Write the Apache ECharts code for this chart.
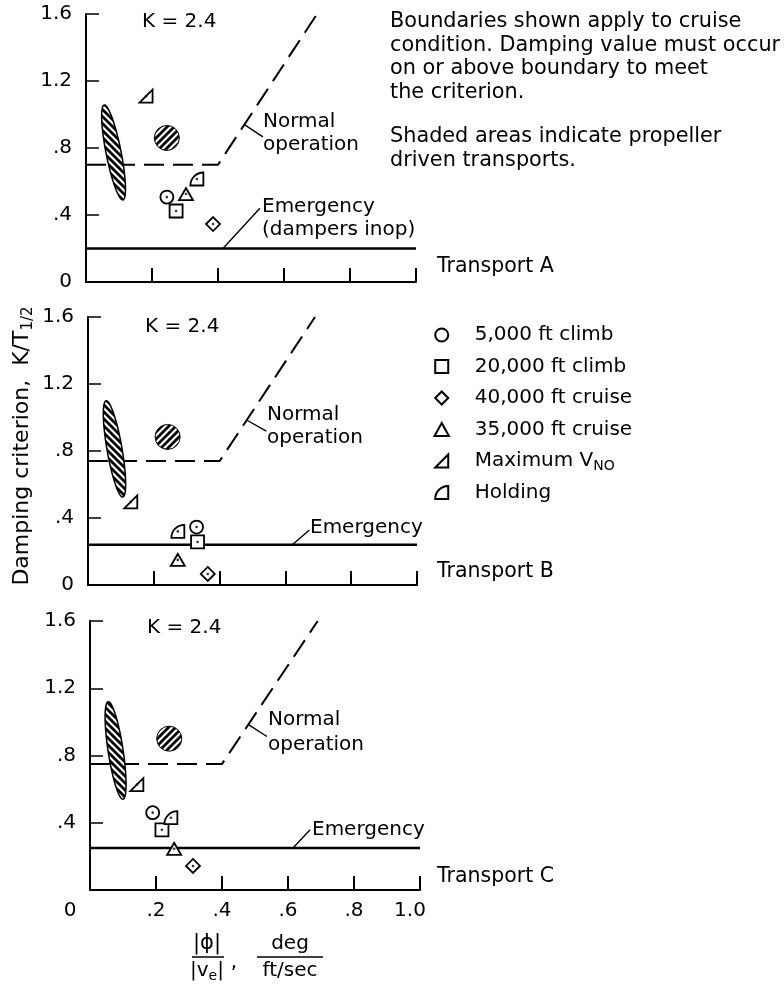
<!DOCTYPE html>
<html>
<head>
<meta charset="utf-8">
<script src="https://cdn.jsdelivr.net/npm/echarts@6/dist/echarts.min.js"></script>
<style>
  html, body { margin: 0; padding: 0; background: #fff; }
  #chart { width: 784px; height: 987px; }
</style>
</head>
<body>
<div id="chart"></div>
<script>
// One entry per panel: Transport A, Transport B, Transport C
const panelNames = ['Transport A', 'Transport B', 'Transport C'];
const gainText = 'K = 2.4';
const xTickLabels = ['0', '.2', '.4', '.6', '.8', '1.0'];
const yTickLabels = ['0', '.4', '.8', '1.2', '1.6'];

// Jet transports, [|phi|/|ve|, K/T1/2] per flight condition
const climb5k   = [[0.245, 0.507], [0.330, 0.346], [0.190, 0.460]];
const climb20k  = [[0.273, 0.424], [0.333, 0.257], [0.218, 0.358]];
const cruise40k = [[0.385, 0.346], [0.364, 0.066], [0.312, 0.143]];
const cruise35k = [[0.303, 0.525], [0.273, 0.150], [0.255, 0.245]];
const maxVno    = [[0.182, 1.110], [0.130, 0.496], [0.142, 0.627]];
const holding   = [[0.336, 0.615], [0.273, 0.320], [0.245, 0.430]];

// Propeller driven transports (shaded areas)
const propDisc = [[0.245, 0.860], [0.242, 0.884], [0.240, 0.900]];
// band as [xTop, yTop, xBottom, yBottom]
const propBand = [[0.055, 1.057, 0.112, 0.490], [0.055, 1.100, 0.106, 0.525], [0.055, 1.120, 0.100, 0.540]];

// Criterion boundaries
const normalBoundary = [
  [[0, 0.70], [0.4, 0.70], [0.70, 1.6]],
  [[0, 0.74], [0.4, 0.74], [0.69, 1.6]],
  [[0, 0.75], [0.4, 0.75], [0.69, 1.6]]
];
const emergencyLevel = [0.20, 0.24, 0.25];

// Leader lines from the boundaries to their captions
const normalLeader = [
  [[0.480, 0.940], [0.536, 0.866]],
  [[0.482, 0.985], [0.542, 0.919]],
  [[0.479, 0.985], [0.536, 0.913]]
];
const emergencyLeader = [
  [[0.415, 0.20], [0.527, 0.44]],
  [[0.621, 0.24], [0.673, 0.328]],
  [[0.615, 0.25], [0.667, 0.358]]
];

const conditionNames = ['5,000 ft climb', '20,000 ft climb', '40,000 ft cruise', '35,000 ft cruise', 'Maximum VNO', 'Holding'];
const conditionData = [climb5k, climb20k, cruise40k, cruise35k, maxVno, holding];

const FONT = 'DejaVu Sans';
const INK = '#000';

const conditionSymbols = [
  { symbol: 'circle', size: 13 },
  { symbol: 'path://M0,0 L10,0 L10,10 L0,10 Z', size: 13 },
  { symbol: 'path://M5,0 L10,5 L5,10 L0,5 Z', size: 14 },
  { symbol: 'path://M5,0 L10,9 L0,9 Z', size: [14, 12] },
  { symbol: 'path://M0,10 L10,10 L10,0 Z', size: [13, 13] },
  { symbol: 'path://M0,10 L10,10 L10,0 A10,10 0 0 0 0,10 Z', size: [13, 13] }
];

// Diagonal hatch tile for the shaded areas
function hatchTile(dir) {
  const s = 7;
  const c = document.createElement('canvas');
  c.width = s; c.height = s;
  const g = c.getContext('2d');
  g.fillStyle = '#fff';
  g.fillRect(0, 0, s, s);
  g.strokeStyle = INK;
  g.lineWidth = 2.8;
  g.beginPath();
  if (dir === '/') {
    g.moveTo(0, s); g.lineTo(s, 0);
    g.moveTo(-1, 1); g.lineTo(1, -1);
    g.moveTo(s - 1, s + 1); g.lineTo(s + 1, s - 1);
  } else {
    g.moveTo(0, 0); g.lineTo(s, s);
    g.moveTo(-1, s - 1); g.lineTo(1, s + 1);
    g.moveTo(s - 1, -1); g.lineTo(s + 1, 1);
  }
  g.stroke();
  return { image: c, repeat: 'repeat' };
}
const hatchBand = hatchTile('\\');
const hatchDisc = hatchTile('/');

const grids = [
  { left: 86, top: 14, width: 330, height: 268 },
  { left: 88, top: 317, width: 329, height: 268 },
  { left: 90, top: 621, width: 330, height: 269 }
];

const xAxes = grids.map((g, i) => ({
  type: 'value', gridIndex: i, min: 0, max: 1, interval: 0.2,
  axisLine: { show: true, onZero: false, lineStyle: { color: INK, width: 2 } },
  axisTick: { show: true, inside: true, length: 14, lineStyle: { color: INK, width: 2 } },
  splitLine: { show: false },
  axisLabel: {
    show: i === 2, color: INK, fontFamily: FONT, fontSize: 20, margin: 11,
    formatter: v => {
      const k = Math.round(v / 0.2);
      if (k === 0) return '{z|' + xTickLabels[k] + '}';
      if (k === 5) return '{e|' + xTickLabels[k] + '}';
      return xTickLabels[k];
    },
    rich: {
      z: { padding: [0, 40, 0, 0], fontFamily: FONT, fontSize: 20, color: INK },
      e: { padding: [0, 20, 0, 0], fontFamily: FONT, fontSize: 20, color: INK }
    }
  }
}));

const yAxes = grids.map((g, i) => ({
  type: 'value', gridIndex: i, min: 0, max: 1.6, interval: 0.4,
  axisLine: { show: true, onZero: false, lineStyle: { color: INK, width: 2 } },
  axisTick: { show: true, inside: true, length: 13, lineStyle: { color: INK, width: 1.5 } },
  splitLine: { show: false },
  axisLabel: {
    color: INK, fontFamily: FONT, fontSize: 20, margin: 14,
    formatter: v => {
      const k = Math.round(v / 0.4);
      if (i === 2 && k === 0) return '';
      return yTickLabels[k];
    }
  }
}));

const series = [];
grids.forEach((g, i) => {
  const axes = { xAxisIndex: i, yAxisIndex: i };
  series.push(Object.assign({
    type: 'line', data: normalBoundary[i], symbol: 'none', silent: true, z: 2,
    lineStyle: { color: INK, width: 2, type: [20, 9] }
  }, axes));
  series.push(Object.assign({
    type: 'line', data: [[0, emergencyLevel[i]], [1, emergencyLevel[i]]], symbol: 'none', silent: true, z: 2,
    lineStyle: { color: INK, width: 2.6 }
  }, axes));
  [normalLeader[i], emergencyLeader[i]].forEach(seg => {
    series.push(Object.assign({
      type: 'line', data: seg, symbol: 'none', silent: true, z: 2,
      lineStyle: { color: INK, width: 1.4 }
    }, axes));
  });
  // slanted shaded band
  series.push(Object.assign({
    type: 'custom', data: [propBand[i]], encode: { x: [0, 2], y: [1, 3] }, z: 3, silent: true,
    renderItem: (params, api) => {
      const p = api.coord([api.value(0), api.value(1)]);
      const q = api.coord([api.value(2), api.value(3)]);
      const cx = (p[0] + q[0]) / 2, cy = (p[1] + q[1]) / 2;
      const dx = q[0] - p[0], dy = q[1] - p[1];
      const len = Math.hypot(dx, dy);
      const ux = dx / len, uy = dy / len, nx = -uy, ny = ux;
      const a = len / 2, b = 7.5;
      const pts = [];
      for (let k = 0; k < 72; k++) {
        const t = 2 * Math.PI * k / 72;
        pts.push([cx + ux * a * Math.cos(t) + nx * b * Math.sin(t),
                  cy + uy * a * Math.cos(t) + ny * b * Math.sin(t)]);
      }
      return { type: 'polygon', shape: { points: pts }, style: { fill: hatchBand, stroke: INK, lineWidth: 1.5 } };
    }
  }, axes));
  // shaded disc
  series.push(Object.assign({
    type: 'custom', data: [propDisc[i]], encode: { x: 0, y: 1 }, z: 3, silent: true,
    renderItem: (params, api) => {
      const c = api.coord([api.value(0), api.value(1)]);
      return { type: 'circle', shape: { cx: c[0], cy: c[1], r: 12.5 }, style: { fill: hatchDisc, stroke: INK, lineWidth: 1 } };
    }
  }, axes));
  // jet transport points
  conditionNames.forEach((name, k) => {
    series.push(Object.assign({
      type: 'scatter', name, data: [conditionData[k][i]],
      symbol: conditionSymbols[k].symbol, symbolSize: conditionSymbols[k].size, z: 4,
      itemStyle: { color: '#fff', borderColor: INK, borderWidth: 1.8, opacity: 1 }
    }, axes));
  });
  // centre dots of the points
  series.push(Object.assign({
    type: 'scatter', data: conditionData.map(d => d[i]), symbol: 'circle', symbolSize: 2.6, z: 5, silent: true,
    itemStyle: { color: INK, borderWidth: 0 }
  }, axes));
});

function txt(x, y, text, opts) {
  return {
    type: 'text', x, y, silent: true,
    style: Object.assign({
      text, fill: INK, fontFamily: FONT, fontSize: 20,
      align: 'left', verticalAlign: 'middle'
    }, opts || {})
  };
}
function seg(x1, y1, x2, y2) {
  return { type: 'line', silent: true, shape: { x1, y1, x2, y2 }, style: { stroke: INK, lineWidth: 1.5 } };
}
const noteStyle = { fontSize: 20.8 };
const panelStyle = { fontSize: 20.5 };

const graphic = [
  txt(142, 22, gainText), txt(145, 327, gainText), txt(147, 628, gainText),
  txt(437, 267, panelNames[0], panelStyle), txt(437, 572, panelNames[1], panelStyle), txt(437, 877, panelNames[2], panelStyle),
  // notes
  txt(390, 22, 'Boundaries shown apply to cruise', noteStyle),
  txt(390, 45.5, 'condition. Damping value must occur', noteStyle),
  txt(390, 69, 'on or above boundary to meet', noteStyle),
  txt(390, 93, 'the criterion.', noteStyle),
  txt(390, 137, 'Shaded areas indicate propeller', noteStyle),
  txt(390, 161, 'driven transports.', noteStyle),
  // boundary captions
  txt(263, 122, 'Normal'), txt(263, 145, 'operation'),
  txt(262, 207, 'Emergency'), txt(262, 230, '(dampers inop)'),
  txt(267, 415, 'Normal'), txt(267, 438, 'operation'),
  txt(310, 528, 'Emergency'),
  txt(268, 720, 'Normal'), txt(268, 745, 'operation'),
  txt(312, 830, 'Emergency'),
  // y axis title
  {
    type: 'text', x: 22, y: 446, rotation: Math.PI / 2, silent: true,
    style: {
      text: '{a|Damping criterion,  K/T}{s|1/2}', align: 'center', verticalAlign: 'middle', fill: INK,
      rich: {
        a: { fontFamily: FONT, fontSize: 22, lineHeight: 27, fill: INK },
        s: { fontFamily: FONT, fontSize: 15, lineHeight: 15, verticalAlign: 'bottom', fill: INK }
      }
    }
  },
  // x axis title as two fractions
  txt(207, 944, '|\u03D5|', { align: 'center', fontSize: 21 }),
  {
    type: 'text', x: 207, y: 971, silent: true,
    style: {
      text: '{a||v}{s|e}{a||}', align: 'center', verticalAlign: 'middle', fill: INK,
      rich: {
        a: { fontFamily: FONT, fontSize: 20, lineHeight: 24, fill: INK },
        s: { fontFamily: FONT, fontSize: 14, lineHeight: 14, verticalAlign: 'bottom', fill: INK }
      }
    }
  },
  seg(192, 957, 224, 957),
  txt(234, 963, ',', { align: 'center' }),
  txt(290, 944, 'deg', { align: 'center' }),
  txt(290, 971, 'ft/sec', { align: 'center' }),
  seg(257, 957, 323, 957)
];

const chart = echarts.init(document.getElementById('chart'), null, { renderer: 'canvas' });
chart.setOption({
  animation: false,
  backgroundColor: '#fff',
  grid: grids,
  xAxis: xAxes,
  yAxis: yAxes,
  legend: {
    data: conditionNames,
    orient: 'vertical', align: 'left', left: 428.5, top: 318,
    itemWidth: 56, itemHeight: 13, itemGap: 7.5, symbolKeepAspect: true,
    selectedMode: false,
    formatter: name => name === 'Maximum VNO' ? '{t|Maximum V}{s|NO}' : '{t|' + name + '}',
    textStyle: {
      color: INK, fontFamily: FONT, fontSize: 20, lineHeight: 24,
      rich: {
        t: { color: INK, fontFamily: FONT, fontSize: 20, lineHeight: 24 },
        s: { color: INK, fontFamily: FONT, fontSize: 14, lineHeight: 14, verticalAlign: 'bottom' }
      }
    }
  },
  graphic,
  series
});
</script>
</body>
</html>
